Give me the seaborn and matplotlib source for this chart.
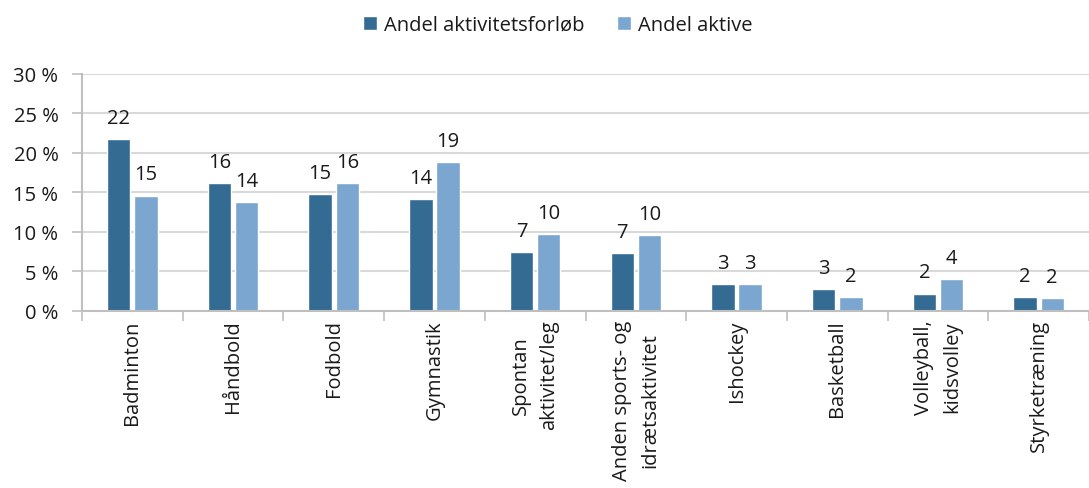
import matplotlib
matplotlib.use("Agg")
import matplotlib.pyplot as plt
import seaborn as sns
import pandas as pd
import numpy as np
from matplotlib.ticker import FixedLocator, FuncFormatter

categories = ["Badminton", "Håndbold", "Fodbold", "Gymnastik", "Spontan\naktivitet/leg",
              "Anden sports- og\nidrætsaktivitet", "Ishockey", "Basketball",
              "Volleyball,\nkidsvolley", "Styrketræning"]
andel_forloeb = [21.7, 16.2, 14.8, 14.2, 7.4, 7.3, 3.4, 2.8, 2.2, 1.8]
andel_aktive = [14.6, 13.8, 16.2, 18.8, 9.7, 9.6, 3.4, 1.8, 4.0, 1.6]
series_names = ["Andel aktivitetsforløb", "Andel aktive"]
yticks = [0, 5, 10, 15, 20, 25, 30]

df = pd.DataFrame({
    "kategori": categories * 2,
    "serie": [series_names[0]] * len(categories) + [series_names[1]] * len(categories),
    "værdi": andel_forloeb + andel_aktive,
})

sns.set_theme(style="white")
plt.rcParams["font.family"] = ["Open Sans", "DejaVu Sans"]

fig = plt.figure(figsize=(10.89, 4.89), dpi=100)
ax = fig.add_axes([0.0753, 0.362, 0.9247, 0.485])

palette = ["#346B93", "#7AA6CF"]
sns.barplot(data=df, x="kategori", y="værdi", hue="serie", palette=palette,
            width=0.54, gap=0.14, ax=ax, order=categories, hue_order=series_names,
            saturation=1, legend=True)

for cont in ax.containers:
    ax.bar_label(cont, fmt="%.0f", padding=8, fontsize=14.5, color="#1a1a1a")

ax.set_ylim(0, 30)
ax.set_xlim(-0.5, len(categories) - 0.5)
ax.yaxis.set_major_locator(FixedLocator(yticks))
ax.yaxis.set_major_formatter(FuncFormatter(lambda v, p: f"{int(v)} %"))
ax.grid(axis="y", color="#d9d9d9", linewidth=1.5)
ax.set_axisbelow(True)
ax.set_xlabel("")
ax.set_ylabel("")

for s in ["top", "right"]:
    ax.spines[s].set_visible(False)
for s in ["left", "bottom"]:
    ax.spines[s].set_color("#bfbfbf")
    ax.spines[s].set_linewidth(1.5)

ax.tick_params(axis="y", which="major", left=True, length=7, color="#bfbfbf",
               width=1.2, labelsize=14.5, labelcolor="#1a1a1a", pad=10)
ax.set_xticks(range(len(categories)))
ax.set_xticklabels(categories, rotation=90, ha="center", va="top",
                   multialignment="center", fontsize=14.5, color="#1a1a1a",
                   linespacing=1.55)
ax.tick_params(axis="x", which="major", length=0, pad=6)
ax.set_xticks(np.arange(-0.5, len(categories), 1.0), minor=True)
ax.tick_params(axis="x", which="minor", bottom=True, length=7, color="#bfbfbf", width=1.2)

leg = ax.legend(loc="upper center", bbox_to_anchor=(0.5 - 0.0753 / 2 + 0.01, 1.325),
                ncol=2, frameon=False, fontsize=14.5, handlelength=0.7, handleheight=0.7,
                handletextpad=0.35, columnspacing=1.6)
for t in leg.get_texts():
    t.set_color("#1a1a1a")

fig.savefig("out.png", dpi=100, facecolor="white")
